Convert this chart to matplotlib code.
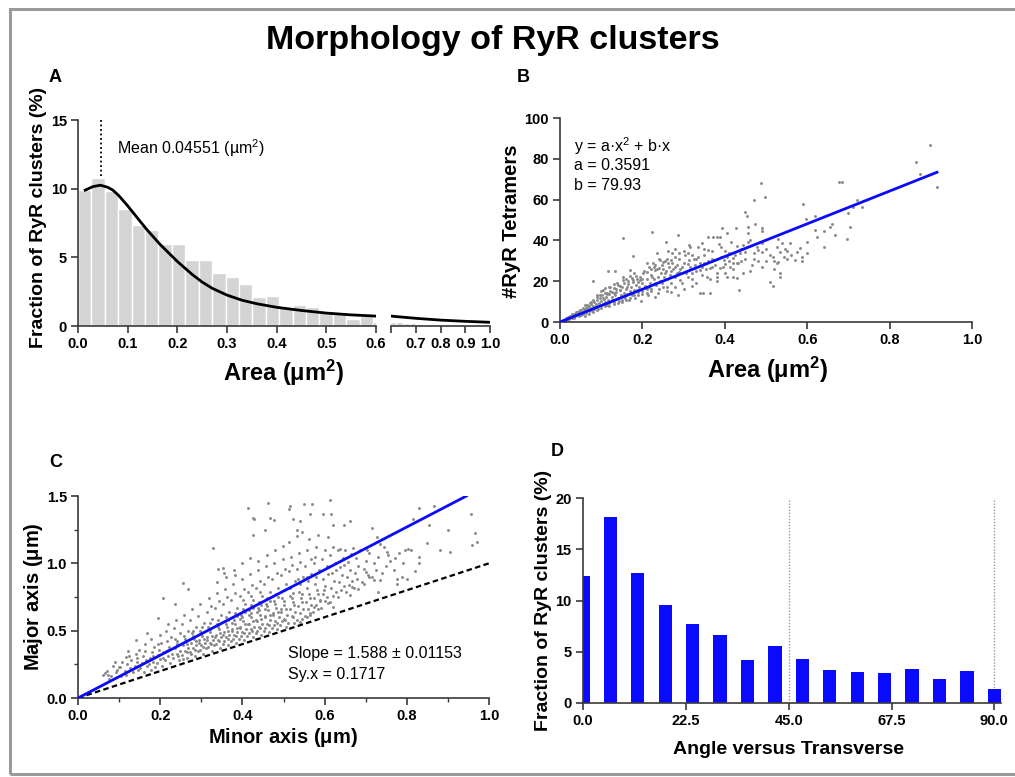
import matplotlib.pyplot as plt
from matplotlib.patches import Rectangle
import numpy as np

plt.rcParams['font.family'] = ['Liberation Sans', 'DejaVu Sans']
plt.rcParams['mathtext.fontset'] = 'custom'
plt.rcParams['mathtext.rm'] = 'Liberation Sans'
plt.rcParams['mathtext.bf'] = 'Liberation Sans:bold'
plt.rcParams['mathtext.it'] = 'Liberation Sans:italic'

# ---- panel A: area histogram (bins of 0.027 um^2) ----
area_bin_width = 0.027
area_fraction = [9.9, 10.8, 9.85, 8.5, 7.35, 7.02, 6.0, 6.0, 4.78, 4.82, 3.85,
                 3.57, 3.03, 2.13, 2.18, 1.36, 1.53, 1.37, 1.1, 0.9, 0.52, 0.72,
                 0.3, 0.27, 0.24, 0.2, 0.13, 0.1, 0.07, 0.06, 0.05, 0.04, 0.03,
                 0.03, 0.02, 0.02, 0.02]
fit_area = [0.012, 0.03, 0.045, 0.06, 0.07, 0.082, 0.1, 0.12, 0.138, 0.165,
            0.2, 0.23, 0.25, 0.27, 0.3, 0.33, 0.36, 0.4, 0.45, 0.5, 0.55, 0.6,
            0.65, 0.7, 0.8, 0.9, 1.0]
fit_fraction = [9.85, 10.15, 10.25, 10.1, 9.9, 9.5, 8.75, 7.85, 7.05, 5.95,
                4.7, 3.75, 3.2, 2.75, 2.25, 1.88, 1.62, 1.36, 1.13, 0.94, 0.81, 0.72,
                0.64, 0.56, 0.43, 0.34, 0.27]
mean_area = 0.04551

# ---- panel B: tetramers vs area ----
b_points = [
    (0.899, 87), (0.865, 78.2), (0.874, 72.5), (0.915, 66), (0.676, 68.4), (0.684, 68.7),
    (0.711, 56.5), (0.733, 56.5), (0.70, 53.3), (0.704, 46.7), (0.696, 40.6), (0.668, 42.7),
    (0.656, 46.7), (0.619, 52), (0.589, 57.8), (0.598, 50.3), (0.64, 44.8), (0.641, 36.6),
    (0.623, 41.5), (0.583, 36.2), (0.575, 34.5), (0.587, 31.8), (0.587, 30), (0.551, 31),
    (0.543, 32), (0.534, 34.5), (0.526, 37), (0.538, 38.6), (0.53, 40.9), (0.559, 38.6),
    (0.518, 32), (0.526, 28.8), (0.534, 24), (0.534, 22.3), (0.51, 19.4), (0.518, 17.8),
    (0.487, 68.2), (0.498, 61.4), (0.47, 59.8), (0.45, 54), (0.453, 52), (0.474, 47.9),
    (0.49, 45.9), (0.49, 44.8), (0.456, 46.7), (0.457, 43.8), (0.427, 45.9), (0.405, 43.5),
    (0.393, 45.9), (0.38, 41.9), (0.389, 41.9), (0.372, 41.9), (0.36, 41.9), (0.344, 38.6),
    (0.312, 37.8), (0.316, 37), (0.287, 42.7), (0.257, 39.4), (0.223, 44), (0.154, 41.4),
    (0.117, 25.2), (0.178, 32.4), (0.081, 20.2), (0.49, 38.6), (0.491, 34.5), (0.478, 37),
    (0.457, 39.4), (0.445, 37.8), (0.437, 33.7), (0.433, 28.8), (0.429, 21.5), (0.435, 15.8),
    (0.421, 28.8), (0.413, 27.2), (0.405, 32.1), (0.397, 30.5), (0.389, 26.4), (0.38, 22.3),
    (0.372, 30.5), (0.364, 26.4), (0.356, 22.3), (0.364, 14.2), (0.34, 14.2), (0.348, 14.2),
    (0.344, 27.2), (0.336, 32.1), (0.328, 28), (0.32, 24), (0.312, 30.5), (0.304, 32.9),
    (0.296, 27.2), (0.291, 20.7), (0.287, 13.4), (0.279, 32.1), (0.271, 33.7), (0.263, 28.8),
    (0.255, 24), (0.247, 19), (0.239, 14.2), (0.243, 30.5), (0.235, 33.7), (0.227, 27.2),
    (0.223, 22.3), (0.215, 17.4), (0.211, 28.8), (0.202, 24), (0.194, 20.7), (0.186, 15.8),
    (0.178, 20.7), (0.17, 25.6), (0.162, 17.4), (0.154, 22.3), (0.146, 15.8), (0.138, 19),
    (0.134, 24.8), (0.13, 14.2), (0.121, 17.4), (0.113, 14.2), (0.105, 15.8), (0.097, 13.4),
    (0.089, 12.5), (0.081, 10.9), (0.073, 9.3), (0.065, 8.5), (0.057, 6.8), (0.049, 6),
    (0.04, 4.4), (0.032, 3.6), (0.024, 2.4), (0.016, 1.5), (0.008, 0.8),
    (0.01, 1), (0.012, 0.5), (0.015, 2), (0.018, 1.2), (0.02, 2.5), (0.022, 1.5), (0.025, 3),
    (0.028, 2), (0.03, 2.8), (0.03, 3.8), (0.033, 2.2), (0.035, 4), (0.036, 3), (0.038, 4.8),
    (0.04, 3.5), (0.042, 5), (0.044, 4.2), (0.045, 2.8), (0.047, 5.5), (0.05, 4.5), (0.05, 3.5),
    (0.052, 6), (0.055, 5), (0.057, 4), (0.058, 6.5), (0.06, 5.5), (0.062, 7), (0.064, 4.5),
    (0.065, 6), (0.067, 7.5), (0.07, 5.5), (0.07, 8), (0.072, 6.5), (0.075, 7), (0.076, 9),
    (0.078, 5.5), (0.08, 8), (0.082, 6.5), (0.083, 10), (0.085, 7.5), (0.087, 9), (0.09, 8),
    (0.09, 11), (0.092, 6.5), (0.095, 9.5), (0.097, 12), (0.1, 8.5), (0.1, 10.5), (0.102, 13),
    (0.105, 9), (0.107, 11.5), (0.11, 10), (0.11, 14), (0.112, 12.5), (0.115, 8.5), (0.117, 11),
    (0.12, 13.5), (0.12, 9.5), (0.122, 15), (0.125, 11), (0.127, 12.5), (0.13, 10), (0.13, 16.5),
    (0.133, 13), (0.135, 11.5), (0.137, 14.5), (0.14, 12), (0.14, 18), (0.143, 10.5),
    (0.145, 15.5), (0.148, 13), (0.15, 11), (0.15, 17), (0.152, 20.5), (0.155, 14), (0.157, 12),
    (0.16, 16), (0.16, 21), (0.163, 13.5), (0.165, 18.5), (0.168, 11), (0.17, 15), (0.17, 22.5),
    (0.173, 17), (0.175, 13), (0.178, 19.5), (0.18, 24), (0.18, 15.5), (0.183, 12), (0.185, 18),
    (0.188, 21), (0.19, 14.5), (0.192, 17), (0.195, 22), (0.197, 10.5), (0.2, 19), (0.2, 15),
    (0.205, 25), (0.207, 17.5), (0.21, 21), (0.213, 13), (0.215, 27), (0.218, 19), (0.22, 23),
    (0.222, 16), (0.225, 29), (0.228, 21), (0.23, 25.5), (0.233, 18), (0.235, 26), (0.238, 22),
    (0.24, 31), (0.243, 20), (0.245, 24), (0.248, 28), (0.25, 17), (0.252, 22), (0.255, 30),
    (0.258, 25), (0.26, 21), (0.262, 35), (0.265, 27), (0.268, 23), (0.27, 19), (0.272, 29),
    (0.275, 26), (0.278, 22), (0.28, 36), (0.283, 28), (0.285, 24), (0.29, 31), (0.292, 26),
    (0.295, 19), (0.3, 29), (0.305, 24), (0.31, 34), (0.315, 27), (0.32, 21), (0.325, 31),
    (0.33, 25), (0.335, 37), (0.34, 29), (0.345, 23), (0.35, 33), (0.355, 26), (0.36, 30),
    (0.365, 21), (0.37, 35), (0.375, 28), (0.38, 24), (0.385, 38), (0.39, 32), (0.395, 27),
    (0.4, 35), (0.405, 22), (0.41, 30), (0.415, 39), (0.42, 26), (0.425, 33), (0.43, 29),
    (0.44, 36), (0.445, 24), (0.45, 31), (0.46, 40), (0.465, 28), (0.47, 34), (0.48, 30),
    (0.5, 36), (0.52, 30), (0.55, 35), (0.6, 39), (0.62, 45), (0.66, 48), (0.72, 60),
    (0.105, 12), (0.115, 13.5), (0.125, 14.5), (0.135, 16), (0.145, 17.5), (0.155, 19),
    (0.165, 20), (0.175, 21.5), (0.185, 22.5), (0.19, 19.5), (0.21, 24.5), (0.22, 26),
    (0.23, 28), (0.24, 26.5), (0.25, 29.5), (0.26, 31), (0.27, 25), (0.28, 27), (0.29, 24.5),
    (0.3, 35), (0.31, 28.5), (0.32, 33), (0.33, 31), (0.34, 25.5), (0.35, 29), (0.36, 35.5),
    (0.37, 27), (0.38, 31), (0.39, 37), (0.4, 28.5), (0.41, 34), (0.42, 31.5), (0.43, 37.5),
    (0.44, 30), (0.45, 34.5), (0.46, 25), (0.47, 31), (0.48, 35.5), (0.49, 27), (0.5, 30),
    (0.51, 33), (0.52, 26), (0.53, 29.5), (0.545, 36), (0.56, 33), (0.57, 30.5), (0.6, 34),
    (0.2, 21), (0.21, 16), (0.23, 19), (0.25, 26), (0.27, 30.5), (0.29, 34), (0.31, 22),
    (0.33, 19), (0.35, 36), (0.37, 31), (0.38, 20), (0.40, 24), (0.42, 22), (0.23, 12.5),
    (0.26, 15), (0.28, 17), (0.3, 16), (0.32, 17.5), (0.06, 3), (0.07, 4), (0.08, 5),
    (0.09, 6), (0.1, 7), (0.11, 8), (0.12, 8), (0.13, 9), (0.14, 9.5), (0.15, 10),
    (0.16, 11), (0.17, 12), (0.18, 13), (0.19, 13), (0.2, 13.5), (0.21, 14), (0.22, 15),
    (0.24, 16), (0.26, 17), (0.27, 14.5), (0.06, 8.5), (0.075, 10), (0.09, 13), (0.1, 15),
    (0.11, 16.5), (0.12, 17), (0.13, 18.5),
]
b_fit_area = [0.0, 0.915]
b_fit_tetramers = [0.0, 73.4]

# ---- panel C: major vs minor axis ----
c_points = [
    (0.414, 1.413), (0.426, 1.339), (0.429, 1.327), (0.463, 1.448), (0.467, 1.339), (0.477, 1.324),
    (0.455, 1.245), (0.426, 1.208), (0.516, 1.423), (0.514, 1.406), (0.524, 1.332), (0.540, 1.312),
    (0.550, 1.443), (0.569, 1.443), (0.565, 1.364), (0.595, 1.364), (0.612, 1.468), (0.616, 1.364),
    (0.621, 1.282), (0.609, 1.196), (0.585, 1.208), (0.534, 1.245), (0.544, 1.233), (0.646, 1.282),
    (0.662, 1.312), (0.715, 1.265), (0.829, 1.413), (0.865, 1.423), (0.853, 1.287), (0.816, 1.332),
    (0.955, 1.369), (0.967, 1.226), (0.971, 1.159), (0.959, 1.134), (0.906, 1.085), (0.796, 1.097),
    (0.804, 1.109), (0.751, 1.085), (0.755, 1.06), (0.820, 0.941), (0.829, 1.003), (0.772, 1.043),
    (0.727, 1.196), (0.735, 1.147), (0.703, 1.097), (0.669, 1.117), (0.650, 1.097), (0.638, 1.109),
    (0.329, 1.117), (0.341, 0.961), (0.352, 0.969), (0.355, 0.929), (0.382, 0.912), (0.256, 0.855),
    (0.268, 0.813), (0.207, 0.739), (0.235, 0.697), (0.195, 0.591), (0.167, 0.479), (0.142, 0.43),
    (0.122, 0.351), (0.089, 0.269), (0.065, 0.183), (0.073, 0.17), (0.118, 0.306), (0.102, 0.232),
    (0.776, 0.88), (0.788, 0.9), (0.8, 0.887), (0.776, 0.85), (0.735, 0.875), (0.731, 0.788),
    (0.719, 0.875), (0.707, 0.9), (0.7, 0.937), (0.695, 0.85), (0.682, 0.813), (0.662, 0.764),
    (0.666, 0.825), (0.621, 0.677), (0.609, 0.702), (0.589, 0.726), (0.573, 0.677), (0.565, 0.628),
    (0.556, 0.603), (0.54, 0.566),
    (0.06, 0.17), (0.07, 0.2), (0.08, 0.16), (0.085, 0.24), (0.075, 0.14),
    (0.092, 0.19), (0.1, 0.23), (0.104, 0.16), (0.108, 0.27), (0.096, 0.21),
    (0.115, 0.2), (0.12, 0.25), (0.124, 0.31), (0.118, 0.17), (0.127, 0.22), (0.13, 0.28),
    (0.135, 0.19), (0.138, 0.24), (0.14, 0.33), (0.143, 0.27), (0.146, 0.21), (0.148, 0.36), (0.144, 0.3),
    (0.152, 0.22), (0.155, 0.26), (0.158, 0.31), (0.16, 0.19), (0.162, 0.35), (0.165, 0.28),
    (0.167, 0.24), (0.163, 0.4),
    (0.172, 0.25), (0.175, 0.3), (0.177, 0.21), (0.18, 0.34), (0.182, 0.27), (0.185, 0.38),
    (0.187, 0.23), (0.183, 0.31), (0.178, 0.44),
    (0.192, 0.26), (0.195, 0.32), (0.197, 0.36), (0.2, 0.29), (0.202, 0.41), (0.205, 0.24),
    (0.207, 0.34), (0.2, 0.47), (0.208, 0.3), (0.195, 0.4),
    (0.212, 0.28), (0.215, 0.35), (0.217, 0.42), (0.22, 0.31), (0.222, 0.38), (0.225, 0.26),
    (0.227, 0.45), (0.213, 0.5), (0.228, 0.33), (0.22, 0.36), (0.218, 0.55),
    (0.232, 0.3), (0.235, 0.37), (0.237, 0.44), (0.24, 0.33), (0.242, 0.4), (0.245, 0.28),
    (0.247, 0.48), (0.233, 0.52), (0.248, 0.35), (0.24, 0.42), (0.238, 0.58), (0.244, 0.31),
    (0.252, 0.32), (0.255, 0.39), (0.257, 0.46), (0.26, 0.35), (0.262, 0.42), (0.265, 0.3),
    (0.267, 0.5), (0.253, 0.55), (0.268, 0.37), (0.26, 0.44), (0.258, 0.62), (0.264, 0.34),
    (0.256, 0.29), (0.266, 0.4),
    (0.272, 0.34), (0.275, 0.41), (0.277, 0.48), (0.28, 0.37), (0.282, 0.44), (0.285, 0.31),
    (0.287, 0.53), (0.273, 0.58), (0.288, 0.39), (0.28, 0.46), (0.278, 0.66), (0.284, 0.36),
    (0.276, 0.33), (0.286, 0.42), (0.281, 0.5),
    (0.292, 0.35), (0.295, 0.43), (0.297, 0.5), (0.3, 0.39), (0.302, 0.46), (0.305, 0.33),
    (0.307, 0.56), (0.293, 0.61), (0.308, 0.41), (0.3, 0.48), (0.298, 0.7), (0.304, 0.38),
    (0.296, 0.36), (0.306, 0.44), (0.301, 0.53), (0.294, 0.41),
    (0.312, 0.37), (0.315, 0.45), (0.317, 0.53), (0.32, 0.41), (0.322, 0.49), (0.325, 0.35),
    (0.327, 0.59), (0.313, 0.64), (0.328, 0.43), (0.32, 0.51), (0.318, 0.74), (0.324, 0.4),
    (0.316, 0.38), (0.326, 0.46), (0.321, 0.56), (0.314, 0.43), (0.323, 0.68),
    (0.332, 0.39), (0.335, 0.47), (0.337, 0.55), (0.34, 0.43), (0.342, 0.51), (0.345, 0.37),
    (0.347, 0.62), (0.333, 0.67), (0.348, 0.45), (0.34, 0.53), (0.338, 0.78), (0.344, 0.42),
    (0.336, 0.4), (0.346, 0.48), (0.341, 0.58), (0.334, 0.45), (0.343, 0.72), (0.339, 0.86),
    (0.352, 0.4), (0.355, 0.49), (0.357, 0.57), (0.36, 0.45), (0.362, 0.53), (0.365, 0.39),
    (0.367, 0.64), (0.353, 0.7), (0.368, 0.47), (0.36, 0.55), (0.358, 0.81), (0.364, 0.44),
    (0.356, 0.42), (0.366, 0.5), (0.361, 0.6), (0.354, 0.47), (0.363, 0.75), (0.359, 0.9), (0.366, 0.58),
    (0.372, 0.42), (0.375, 0.51), (0.377, 0.6), (0.38, 0.47), (0.382, 0.55), (0.385, 0.41),
    (0.387, 0.67), (0.373, 0.73), (0.388, 0.49), (0.38, 0.58), (0.378, 0.85), (0.384, 0.46),
    (0.376, 0.44), (0.386, 0.52), (0.381, 0.63), (0.374, 0.5), (0.383, 0.78), (0.379, 0.95),
    (0.386, 0.61), (0.375, 0.56),
    (0.392, 0.44), (0.395, 0.53), (0.397, 0.62), (0.4, 0.49), (0.402, 0.57), (0.405, 0.43),
    (0.407, 0.7), (0.393, 0.76), (0.408, 0.51), (0.4, 0.6), (0.398, 0.88), (0.404, 0.48),
    (0.396, 0.46), (0.406, 0.55), (0.401, 0.66), (0.394, 0.52), (0.403, 0.81), (0.399, 1.0),
    (0.406, 0.64), (0.395, 0.59), (0.402, 0.73),
    (0.412, 0.46), (0.415, 0.55), (0.417, 0.65), (0.42, 0.51), (0.422, 0.6), (0.425, 0.45),
    (0.427, 0.73), (0.413, 0.79), (0.428, 0.53), (0.42, 0.63), (0.418, 0.92), (0.424, 0.5),
    (0.416, 0.48), (0.426, 0.57), (0.421, 0.69), (0.414, 0.55), (0.423, 0.84), (0.419, 1.04),
    (0.426, 0.67), (0.415, 0.62), (0.422, 0.76),
    (0.432, 0.48), (0.435, 0.57), (0.437, 0.67), (0.44, 0.53), (0.442, 0.62), (0.445, 0.47),
    (0.447, 0.76), (0.433, 0.82), (0.448, 0.55), (0.44, 0.65), (0.438, 0.95), (0.444, 0.52),
    (0.436, 0.5), (0.446, 0.59), (0.441, 0.71), (0.434, 0.58), (0.443, 0.87), (0.439, 1.02),
    (0.446, 0.69), (0.435, 0.64), (0.442, 0.79),
    (0.452, 0.5), (0.455, 0.6), (0.457, 0.7), (0.46, 0.55), (0.462, 0.65), (0.465, 0.49),
    (0.467, 0.79), (0.453, 0.85), (0.468, 0.58), (0.46, 0.68), (0.458, 0.98), (0.464, 0.54),
    (0.456, 0.52), (0.466, 0.62), (0.461, 0.74), (0.454, 0.61), (0.463, 0.9), (0.459, 1.06),
    (0.466, 0.72), (0.455, 0.66),
    (0.472, 0.52), (0.475, 0.62), (0.477, 0.72), (0.48, 0.57), (0.482, 0.67), (0.485, 0.51),
    (0.487, 0.82), (0.473, 0.88), (0.488, 0.6), (0.48, 0.7), (0.478, 1.0), (0.484, 0.56),
    (0.476, 0.54), (0.486, 0.64), (0.481, 0.77), (0.474, 0.63), (0.483, 0.93), (0.479, 1.1),
    (0.486, 0.75),
    (0.492, 0.54), (0.495, 0.64), (0.497, 0.74), (0.5, 0.59), (0.502, 0.69), (0.505, 0.53),
    (0.507, 0.85), (0.493, 0.91), (0.508, 0.62), (0.5, 0.72), (0.498, 1.03), (0.504, 0.58),
    (0.496, 0.57), (0.506, 0.66), (0.501, 0.8), (0.494, 0.66), (0.503, 0.96), (0.499, 1.13),
    (0.512, 0.56), (0.515, 0.66), (0.517, 0.76), (0.52, 0.61), (0.522, 0.71), (0.525, 0.56),
    (0.527, 0.87), (0.513, 0.94), (0.528, 0.64), (0.52, 0.74), (0.518, 1.05), (0.524, 0.6),
    (0.516, 0.82), (0.526, 0.69), (0.521, 0.99), (0.514, 1.16), (0.523, 0.78),
    (0.532, 0.58), (0.535, 0.68), (0.537, 0.79), (0.54, 0.63), (0.542, 0.74), (0.545, 0.59),
    (0.547, 0.9), (0.533, 0.96), (0.548, 0.66), (0.54, 0.85), (0.538, 1.08), (0.544, 0.71),
    (0.536, 0.88), (0.546, 0.77), (0.541, 1.01), (0.534, 1.2),
    (0.552, 0.61), (0.555, 0.71), (0.557, 0.82), (0.56, 0.66), (0.562, 0.77), (0.565, 0.62),
    (0.567, 0.92), (0.553, 0.98), (0.568, 0.69), (0.56, 0.87), (0.558, 1.1), (0.564, 0.74),
    (0.556, 0.9), (0.566, 1.03), (0.561, 1.18),
    (0.572, 0.64), (0.575, 0.74), (0.577, 0.85), (0.58, 0.69), (0.582, 0.8), (0.585, 0.66),
    (0.587, 0.95), (0.573, 1.0), (0.588, 0.72), (0.58, 0.9), (0.578, 1.12), (0.584, 0.77), (0.576, 1.05),
    (0.592, 0.67), (0.595, 0.77), (0.597, 0.88), (0.6, 0.72), (0.602, 0.83), (0.605, 0.98),
    (0.607, 0.75), (0.593, 1.03), (0.608, 0.92), (0.6, 1.1), (0.598, 0.8),
    (0.612, 0.71), (0.615, 0.82), (0.617, 0.93), (0.62, 0.76), (0.622, 0.87), (0.625, 1.0),
    (0.627, 0.79), (0.613, 1.06), (0.628, 0.95), (0.62, 1.12),
    (0.632, 0.75), (0.635, 0.86), (0.637, 0.97), (0.64, 0.8), (0.642, 0.91), (0.645, 1.04),
    (0.647, 0.83), (0.633, 1.1), (0.648, 0.99),
    (0.652, 0.79), (0.655, 0.9), (0.657, 1.01), (0.66, 0.84), (0.662, 0.95), (0.665, 1.07), (0.667, 0.87),
    (0.672, 0.82), (0.675, 0.93), (0.677, 1.04), (0.68, 0.88), (0.682, 0.98), (0.685, 1.1),
    (0.692, 0.86), (0.695, 0.96), (0.7, 1.02), (0.705, 0.91), (0.708, 1.08),
    (0.715, 0.9), (0.72, 1.0), (0.725, 0.95), (0.73, 1.05), (0.74, 0.93), (0.745, 1.12),
    (0.75, 0.98), (0.76, 1.02), (0.77, 0.95), (0.78, 1.08), (0.79, 1.0), (0.81, 1.1),
    (0.83, 1.05), (0.85, 1.15), (0.88, 1.1), (0.9, 1.25),
]
c_fit_minor = [0.0, 0.945]
c_fit_major = [0.0, 1.5]
c_identity = [0.0, 1.0]

# ---- panel D: angle histogram ----
angle_centers = [0, 6, 12, 18, 24, 30, 36, 42, 48, 54, 60, 66, 72, 78, 84, 90]
angle_fraction = [12.38, 18.18, 12.7, 9.6, 7.7, 6.6, 4.18, 5.54, 4.28, 3.24,
                  3.0, 2.9, 3.34, 2.37, 3.14, 1.33]
angle_guides = [45, 90]

W, H = 1015, 777
fig = plt.figure(figsize=(W / 100, H / 100), dpi=100)

def frac(x0, y0, x1, y1):
    return [x0 / W, 1 - y1 / H, (x1 - x0) / W, (y1 - y0) / H]

spine_color = '#3a3a3a'
tick_size = 10.5
label_size = 14.5
gray_dots = '#8a8a8a'
blue = '#0a0aff'

def style(ax):
    for s in ['top', 'right']:
        ax.spines[s].set_visible(False)
    for s in ['left', 'bottom']:
        ax.spines[s].set_color(spine_color)
        ax.spines[s].set_linewidth(1.2)
    ax.tick_params(direction='out', length=5, width=1.2, color=spine_color,
                   labelsize=tick_size, pad=3)
    for lab in ax.get_xticklabels() + ax.get_yticklabels():
        lab.set_fontweight('bold')

# ---------- A ----------
axA = fig.add_axes(frac(78, 120, 376, 326))
axA2 = fig.add_axes(frac(391, 120, 490, 326), sharey=axA)
left_edges = np.arange(len(area_fraction)) * area_bin_width
for ax in (axA, axA2):
    ax.bar(left_edges, area_fraction, width=area_bin_width, align='edge',
           color='#d4d4d4', edgecolor='white', linewidth=1.0)
    ax.plot(fit_area, fit_fraction, color='black', lw=2.0, solid_capstyle='butt')
axA.set_xlim(0, 0.6)
axA.set_ylim(0, 15)
axA.set_yticks([0, 5, 10, 15])
axA.set_xticks([0.0, 0.1, 0.2, 0.3, 0.4, 0.5, 0.6])
axA.set_xticklabels(['0.0', '0.1', '0.2', '0.3', '0.4', '0.5', '0.6'])
axA.plot([mean_area, mean_area], [10.9, 15], color='black', lw=1.3, ls=(0, (1, 1.5)))
axA.text(0.0785, 12.96, 'Mean 0.04551 (µm$^2$)', fontsize=11.5, va='center')
style(axA)
axA2.set_xlim(0.6, 1.0)
axA2.set_xticks([0.6, 0.7, 0.8, 0.9, 1.0])
axA2.set_xticklabels(['', '0.7', '0.8', '0.9', '1.0'])
style(axA2)
axA2.spines['left'].set_visible(False)
axA2.tick_params(axis='y', left=False, labelleft=False)
axA.set_xlabel(r'Area ($\mathbf{\mu}$m$^\mathbf{2}$)', fontsize=17, fontweight='bold')
axA.xaxis.set_label_coords(0.691, -0.228)
axA.xaxis.label.set_va('center')
axA.set_ylabel('Fraction of RyR clusters (%)', fontsize=14, fontweight='bold')
axA.yaxis.set_label_coords(-0.134, 0.529)
axA.yaxis.label.set_va('center')

# ---------- B ----------
axB = fig.add_axes(frac(560, 118, 972, 322))
bx, by = zip(*b_points)
axB.scatter(bx, by, s=4.5, color=gray_dots, linewidths=0, zorder=2)
axB.plot(b_fit_area, b_fit_tetramers, color=blue, lw=2.0, zorder=3)
axB.set_xlim(0, 1.0)
axB.set_ylim(0, 100)
axB.set_xticks([0.0, 0.2, 0.4, 0.6, 0.8, 1.0])
axB.set_xticklabels(['0.0', '0.2', '0.4', '0.6', '0.8', '1.0'])
axB.set_yticks([0, 20, 40, 60, 80, 100])
style(axB)
for i, line in enumerate(['y = a·x$^2$ + b·x', 'a = 0.3591', 'b = 79.93']):
    axB.text(0.034, 86.3 - 9.8 * i, line, fontsize=11.5, va='center')
axB.set_xlabel(r'Area ($\mathbf{\mu}$m$^\mathbf{2}$)', fontsize=17, fontweight='bold')
axB.xaxis.set_label_coords(0.505, -0.235)
axB.xaxis.label.set_va('center')
axB.set_ylabel('#RyR Tetramers', fontsize=label_size, fontweight='bold')
axB.yaxis.set_label_coords(-0.117, 0.495)
axB.yaxis.label.set_va('center')

# ---------- C ----------
axC = fig.add_axes(frac(78, 496, 489, 698))
cx, cy = zip(*c_points)
axC.scatter(cx, cy, s=4.5, color=gray_dots, linewidths=0, zorder=2)
axC.plot(c_identity, c_identity, color='black', lw=1.6, ls=(0, (2.5, 1.5)), zorder=3)
axC.plot(c_fit_minor, c_fit_major, color=blue, lw=2.0, zorder=4)
axC.set_xlim(0, 1.0)
axC.set_ylim(0, 1.5)
axC.set_xticks([0.0, 0.2, 0.4, 0.6, 0.8, 1.0])
axC.set_xticklabels(['0.0', '0.2', '0.4', '0.6', '0.8', '1.0'])
axC.set_xticks([0.1, 0.3, 0.5, 0.7, 0.9], minor=True)
axC.set_yticks([0.0, 0.5, 1.0, 1.5])
axC.set_yticklabels(['0.0', '0.5', '1.0', '1.5'])
axC.set_yticks([0.25, 0.75, 1.25], minor=True)
style(axC)
axC.tick_params(which='minor', length=3, width=1.0, color=spine_color)
axC.text(0.511, 0.327, 'Slope = 1.588 ± 0.01153', fontsize=11.5, va='center')
axC.text(0.511, 0.178, 'Sy.x = 0.1717', fontsize=11.5, va='center')
axC.set_xlabel(r'Minor axis ($\mathbf{\mu}$m)', fontsize=label_size, fontweight='bold')
axC.xaxis.set_label_coords(0.499, -0.198)
axC.xaxis.label.set_va('center')
axC.set_ylabel(r'Major axis ($\mathbf{\mu}$m)', fontsize=label_size, fontweight='bold')
axC.yaxis.set_label_coords(-0.109, 0.5)
axC.yaxis.label.set_va('center')

# ---------- D ----------
axD = fig.add_axes(frac(582.5, 498, 1001, 703))
axD.bar(angle_centers, angle_fraction, width=2.9, color=blue, edgecolor='none', zorder=2)
for g in angle_guides:
    axD.axvline(g, color='#9a9a9a', lw=1.0, ls=(0, (1, 1.2)), zorder=1)
axD.set_xlim(-0.1, 91.45)
axD.set_ylim(0, 20)
axD.set_xticks([0, 22.5, 45, 67.5, 90])
axD.set_xticklabels(['0.0', '22.5', '45.0', '67.5', '90.0'])
axD.set_yticks([0, 5, 10, 15, 20])
style(axD)
axD.set_xlabel('Angle versus Transverse', fontsize=14, fontweight='bold')
axD.xaxis.set_label_coords(0.493, -0.229)
axD.xaxis.label.set_va('center')
axD.set_ylabel('Fraction of RyR clusters (%)', fontsize=14, fontweight='bold')
axD.yaxis.set_label_coords(-0.094, 0.502)
axD.yaxis.label.set_va('center')

# panel letters, title and frame
for letter, (px, py) in zip('ABCD', [(55, 77), (523, 77), (56, 463), (557, 452)]):
    fig.text(px / W, 1 - py / H, letter, fontsize=13, fontweight='bold',
             ha='center', va='center')
fig.text(493 / W, 1 - 41 / H, 'Morphology of RyR clusters', fontsize=24.5,
         fontweight='bold', ha='center', va='center')
fig.add_artist(Rectangle((10 / W, 3 / H), 1.0, 1 - 12 / H, fill=False,
                         edgecolor='#9a9a9a', linewidth=2.2,
                         transform=fig.transFigure))

fig.savefig('out.png', dpi=100)
